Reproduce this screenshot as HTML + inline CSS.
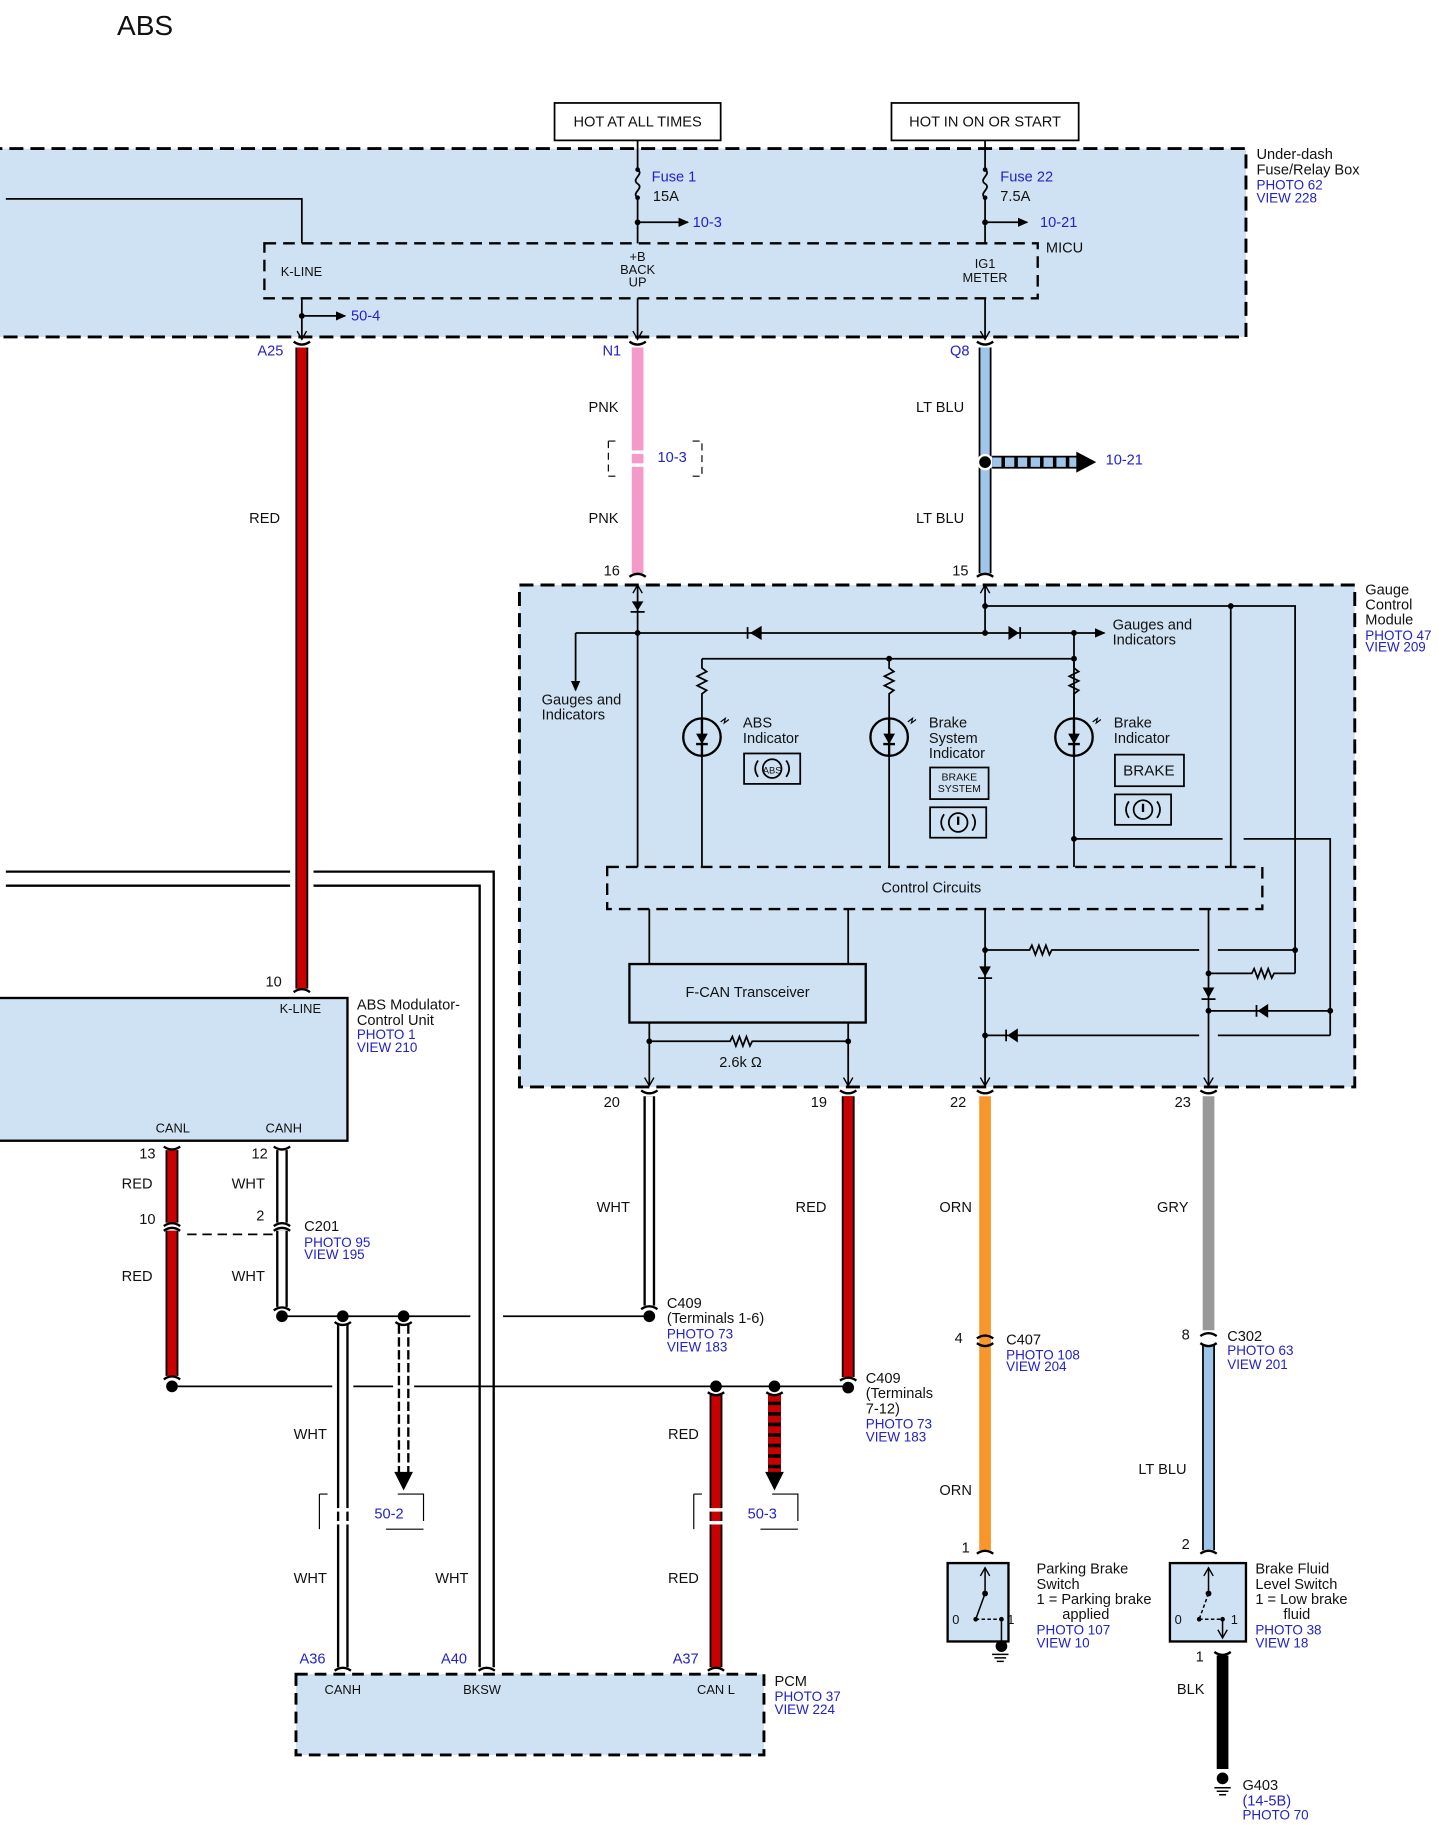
<!DOCTYPE html>
<html><head><meta charset="utf-8"><style>
html,body{margin:0;padding:0;background:#fff}
svg{display:block}
text{font-family:"Liberation Sans",Arial,sans-serif;font-size:12.5px;fill:#111}
.b{fill:#2222c8;font-size:11.5px}
.s{font-size:11px}
</style></head><body>
<svg width="1439" height="1831" viewBox="0 0 1230 1565" preserveAspectRatio="none" xmlns="http://www.w3.org/2000/svg">
<defs>
<marker id="ar" markerWidth="10" markerHeight="10" refX="8" refY="5" orient="auto" markerUnits="userSpaceOnUse"><path d="M0,1 L9,5 L0,9 Z" fill="#000"/></marker>
<marker id="ao" markerWidth="10" markerHeight="10" refX="8" refY="5" orient="auto" markerUnits="userSpaceOnUse"><path d="M1,1 L8,5 L1,9" fill="none" stroke="#000" stroke-width="1.2"/></marker>
</defs>
<text x="100" y="30" style="font-size:24px">ABS</text>

<!-- Under-dash box -->
<rect x="-10" y="127" width="1075" height="161" fill="#cfe2f3" stroke="#000" stroke-width="2.5" stroke-dasharray="12,6"/>
<rect x="226" y="208" width="661" height="47" fill="#cfe2f3" stroke="#000" stroke-width="2" stroke-dasharray="10,6"/>
<text x="1074" y="136">Under-dash</text><text x="1074" y="149">Fuse/Relay Box</text>
<text class="b" x="1074" y="162">PHOTO 62</text><text class="b" x="1074" y="173">VIEW 228</text>
<text x="894" y="216">MICU</text>
<text class="s" x="240" y="236">K-LINE</text>
<text class="s" x="545" y="223" text-anchor="middle">+B</text><text class="s" x="545" y="234" text-anchor="middle">BACK</text><text class="s" x="545" y="245" text-anchor="middle">UP</text>
<text class="s" x="842" y="229" text-anchor="middle">IG1</text><text class="s" x="842" y="241" text-anchor="middle">METER</text>

<rect x="474" y="88" width="142" height="32" fill="#fff" stroke="#000" stroke-width="1.5"/>
<text x="545" y="108" text-anchor="middle">HOT AT ALL TIMES</text>
<rect x="762" y="88" width="160" height="32" fill="#fff" stroke="#000" stroke-width="1.5"/>
<text x="842" y="108" text-anchor="middle">HOT IN ON OR START</text>

<g stroke="#000" stroke-width="1.5" fill="none">
<path d="M545 120V145 c6 4 -6 8 0 12 c6 4 -6 8 0 12 V208"/>
<path d="M842 120V145 c6 4 -6 8 0 12 c6 4 -6 8 0 12 V208"/>
<path d="M545 190H588" marker-end="url(#ar)"/>
<path d="M842 190H878" marker-end="url(#ar)"/>
<path d="M5 170H258V208"/>
<path d="M258 255V290" marker-end="url(#ao)"/>
<path d="M545 255V290" marker-end="url(#ao)"/>
<path d="M842 255V290" marker-end="url(#ao)"/>
<path d="M258 270H295" marker-end="url(#ar)"/>
</g>
<g fill="#000"><circle cx="545" cy="145" r="2"/><circle cx="545" cy="169" r="2"/><circle cx="545" cy="190" r="2.5"/><circle cx="842" cy="145" r="2"/><circle cx="842" cy="169" r="2"/><circle cx="842" cy="190" r="2.5"/><circle cx="258" cy="270" r="2.5"/></g>
<text class="b" x="557" y="155" style="font-size:12.5px">Fuse 1</text><text x="558" y="172">15A</text>
<text class="b" x="592" y="194" style="font-size:12.5px">10-3</text>
<text class="b" x="855" y="155" style="font-size:12.5px">Fuse 22</text><text x="855" y="172">7.5A</text>
<text class="b" x="889" y="194" style="font-size:12.5px">10-21</text>
<text class="b" x="300" y="274" style="font-size:12.5px">50-4</text>

<!-- BKSW double wire -->
<path d="M5 745H422V1425" fill="none" stroke="#000" stroke-width="2"/>
<path d="M5 757H410V1425" fill="none" stroke="#000" stroke-width="2"/>

<!-- top wires -->
<g stroke-linecap="butt">
<line x1="258" y1="297" x2="258" y2="845" stroke="#fff" stroke-width="20"/>
<line x1="258" y1="297" x2="258" y2="845" stroke="#000" stroke-width="11"/><line x1="258" y1="297" x2="258" y2="845" stroke="#c80000" stroke-width="8"/>
<line x1="545" y1="297" x2="545" y2="490" stroke="#f49ac8" stroke-width="10"/>
<line x1="842" y1="297" x2="842" y2="490" stroke="#000" stroke-width="11"/><line x1="842" y1="297" x2="842" y2="490" stroke="#9fc5e8" stroke-width="8"/>
</g>
<rect x="538" y="385" width="14" height="3" fill="#fff"/><rect x="538" y="396" width="14" height="3" fill="#fff"/>
<path d="M520 377H526M592 377H600V407H592M520 407H526M520 377V407" stroke="#000" stroke-width="1" fill="none" stroke-dasharray="6,4"/>
<text class="b" x="562" y="395" style="font-size:12.5px">10-3</text>
<circle cx="842" cy="395" r="6" fill="#000" stroke="#fff" stroke-width="2"/>
<line x1="848" y1="395" x2="922" y2="395" stroke="#000" stroke-width="11"/><line x1="848" y1="395" x2="922" y2="395" stroke="#9fc5e8" stroke-width="8" stroke-dasharray="8,3"/>
<path d="M920 386L937 395L920 404Z" fill="#000"/>
<text class="b" x="945" y="397" style="font-size:12.5px">10-21</text>
<text class="b" x="220" y="304" style="font-size:12.5px">A25</text><text class="b" x="515" y="304" style="font-size:12.5px">N1</text><text class="b" x="812" y="304" style="font-size:12.5px">Q8</text>
<text x="213" y="447">RED</text><text x="503" y="352">PNK</text><text x="503" y="447">PNK</text><text x="783" y="352">LT BLU</text><text x="783" y="447">LT BLU</text>
<text x="516" y="492">16</text><text x="814" y="492">15</text>
<g stroke="#000" stroke-width="2" fill="none">
<path d="M251 292q7 5 14 0M538 292q7 5 14 0M835 292q7 5 14 0M538 493q7 -5 14 0M835 493q7 -5 14 0"/>
</g>

<!-- Gauge control module -->
<rect x="444" y="500" width="714" height="429" fill="#cfe2f3" stroke="#000" stroke-width="2.5" stroke-dasharray="12,6"/>
<text x="1167" y="508">Gauge</text><text x="1167" y="521">Control</text><text x="1167" y="534">Module</text>
<text class="b" x="1167" y="547">PHOTO 47</text><text class="b" x="1167" y="557">VIEW 209</text>
<g stroke="#000" stroke-width="1.5" fill="none">
<path d="M545 741V500" marker-end="url(#ao)"/>
<path d="M842 541V500" marker-end="url(#ao)"/>
<path d="M492 541H944" marker-end="url(#ar)"/>
<path d="M492 541V590" marker-end="url(#ar)"/>
<path d="M842 518H1107V832"/>
<path d="M1052 518V741"/>
<path d="M600 563H918"/>
<path d="M918 541V741"/>
<path d="M600 563V571l4 3-8 4 8 4-8 4 8 4-4 3V614"/>
<path d="M760 563V571l4 3-8 4 8 4-8 4 8 4-4 3V614"/>
<path d="M918 563V571l4 3-8 4 8 4-8 4 8 4-4 3V614"/>
<path d="M600 646V741M760 646V741"/>
<path d="M918 717H1045M1063 717H1137V885"/>
<path d="M555 777V824M725 777V824"/>
<path d="M555 874V928" marker-end="url(#ao)"/>
<path d="M725 874V928" marker-end="url(#ao)"/>
<path d="M555 890H624l2-4 3 8 3-8 3 8 3-8 3 8 2-4H725"/>
<path d="M842 777V928" marker-end="url(#ao)"/>
<path d="M842 812H880l2-4 3 8 3-8 3 8 3-8 3 8 2-4H1025M1041 812H1107"/>
<path d="M842 885H1025M1041 885H1137"/>
<path d="M1033 777V928" marker-end="url(#ao)"/>
<path d="M1033 832H1070l2-4 3 8 3-8 3 8 3-8 3 8 2-4H1107"/>
<path d="M1033 864H1137"/>
<path d="M539 523H551M639 536V546M872 536V546M836 836H848M1027 854H1039M1074 859V869M860 880V890"/>
</g>
<g fill="#000">
<path d="M540 514L550 514L545 522Z"/>
<path d="M651 535L651 547L641 541Z"/>
<path d="M862 535L862 547L871 541Z"/>
<path d="M837 826L847 826L842 835Z"/>
<path d="M1028 844L1038 844L1033 853Z"/>
<path d="M1084 858L1084 870L1075 864Z"/>
<path d="M870 879L870 891L861 885Z"/>
<circle cx="545" cy="541" r="2.5"/><circle cx="842" cy="541" r="2.5"/><circle cx="918" cy="541" r="2.5"/><circle cx="842" cy="518" r="2.5"/><circle cx="1052" cy="518" r="2.5"/>
<circle cx="760" cy="563" r="2.5"/><circle cx="918" cy="563" r="2.5"/><circle cx="918" cy="717" r="2.5"/>
<circle cx="555" cy="890" r="2.5"/><circle cx="725" cy="890" r="2.5"/><circle cx="842" cy="812" r="2.5"/><circle cx="842" cy="885" r="2.5"/>
<circle cx="1033" cy="832" r="2.5"/><circle cx="1033" cy="864" r="2.5"/><circle cx="1107" cy="812" r="2.5"/><circle cx="1137" cy="864" r="2.5"/>
</g>
<!-- LEDs -->
<g stroke="#000" stroke-width="2" fill="none">
<circle cx="600" cy="630" r="16"/><circle cx="760" cy="630" r="16"/><circle cx="918" cy="630" r="16"/>
<path d="M600 614V646M595 636H605M760 614V646M755 636H765M918 614V646M913 636H923"/>
<path d="M616 617l4-3-1 4 4-3M776 617l4-3-1 4 4-3M934 617l4-3-1 4 4-3" stroke-width="1"/>
</g>
<g fill="#000"><path d="M595 627H605L600 636Z"/><path d="M755 627H765L760 636Z"/><path d="M913 627H923L918 636Z"/></g>
<text x="463" y="602">Gauges and</text><text x="463" y="615">Indicators</text>
<text x="951" y="538">Gauges and</text><text x="951" y="551">Indicators</text>
<text x="635" y="622">ABS</text><text x="635" y="635">Indicator</text>
<text x="794" y="622">Brake</text><text x="794" y="635">System</text><text x="794" y="648">Indicator</text>
<text x="952" y="622">Brake</text><text x="952" y="635">Indicator</text>
<g stroke="#000" stroke-width="1.5" fill="none">
<rect x="636" y="644" width="48" height="26"/>
<rect x="795" y="656" width="50" height="27"/>
<rect x="795" y="690" width="48" height="26"/>
<rect x="953" y="645" width="59" height="27"/>
<rect x="953" y="679" width="48" height="26"/>
<circle cx="660" cy="657" r="8"/><circle cx="819" cy="703" r="8"/><circle cx="977" cy="692" r="8"/>
<path d="M648 650q-5 7 0 14M672 650q5 7 0 14M807 696q-5 7 0 14M831 696q5 7 0 14M965 685q-5 7 0 14M989 685q5 7 0 14"/>
<path d="M819 698V705M977 687V694" stroke-width="2"/>
</g>
<text x="660" y="661" text-anchor="middle" style="font-size:8px">ABS</text>
<text x="820" y="667" text-anchor="middle" style="font-size:9px">BRAKE</text><text x="820" y="677" text-anchor="middle" style="font-size:9px">SYSTEM</text>
<text x="982" y="663" text-anchor="middle" style="font-size:13px">BRAKE</text>
<rect x="519" y="741" width="560" height="36" fill="#cfe2f3" stroke="#000" stroke-width="2" stroke-dasharray="10,6"/>
<text x="796" y="763" text-anchor="middle">Control Circuits</text>
<rect x="538" y="824" width="202" height="50" fill="#cfe2f3" stroke="#000" stroke-width="2"/>
<text x="639" y="852" text-anchor="middle">F-CAN Transceiver</text>
<text x="633" y="912" text-anchor="middle">2.6k Ω</text>

<!-- ABS modulator -->
<rect x="-10" y="853" width="307" height="122" fill="#cfe2f3" stroke="#000" stroke-width="2"/>
<text x="305" y="863">ABS Modulator-</text><text x="305" y="876">Control Unit</text>
<text class="b" x="305" y="888">PHOTO 1</text><text class="b" x="305" y="899">VIEW 210</text>
<text class="s" x="239" y="866">K-LINE</text><text x="227" y="843">10</text>
<text class="s" x="133" y="968">CANL</text><text class="s" x="227" y="968">CANH</text>
<path d="M251 848q7 -5 14 0" stroke="#000" stroke-width="2" fill="none"/>

<!-- bottom wires -->
<g stroke-linecap="butt">
<line x1="555" y1="937" x2="555" y2="1116" stroke="#000" stroke-width="10"/><line x1="555" y1="937" x2="555" y2="1116" stroke="#fff" stroke-width="6"/>
<line x1="725" y1="937" x2="725" y2="1177" stroke="#000" stroke-width="11"/><line x1="725" y1="937" x2="725" y2="1177" stroke="#c80000" stroke-width="8"/>
<line x1="842" y1="937" x2="842" y2="1325" stroke="#f7962b" stroke-width="10"/>
<line x1="1033" y1="937" x2="1033" y2="1137" stroke="#999" stroke-width="10"/>
<line x1="1033" y1="1150" x2="1033" y2="1325" stroke="#000" stroke-width="11"/><line x1="1033" y1="1150" x2="1033" y2="1325" stroke="#9fc5e8" stroke-width="8"/>
<line x1="1045" y1="1415" x2="1045" y2="1512" stroke="#000" stroke-width="10"/>
<line x1="147" y1="983" x2="147" y2="1045" stroke="#000" stroke-width="11"/><line x1="147" y1="983" x2="147" y2="1045" stroke="#c80000" stroke-width="8"/>
<line x1="147" y1="1052" x2="147" y2="1176" stroke="#000" stroke-width="11"/><line x1="147" y1="1052" x2="147" y2="1176" stroke="#c80000" stroke-width="8"/>
<line x1="241" y1="983" x2="241" y2="1045" stroke="#000" stroke-width="10"/><line x1="241" y1="983" x2="241" y2="1045" stroke="#fff" stroke-width="6"/>
<line x1="241" y1="1052" x2="241" y2="1117" stroke="#000" stroke-width="10"/><line x1="241" y1="1052" x2="241" y2="1117" stroke="#fff" stroke-width="6"/>
<line x1="293" y1="1132" x2="293" y2="1425" stroke="#000" stroke-width="10"/><line x1="293" y1="1132" x2="293" y2="1425" stroke="#fff" stroke-width="6"/>
<line x1="612" y1="1192" x2="612" y2="1425" stroke="#000" stroke-width="11"/><line x1="612" y1="1192" x2="612" y2="1425" stroke="#c80000" stroke-width="8"/>
<line x1="345" y1="1132" x2="345" y2="1262" stroke="#000" stroke-width="10" stroke-dasharray="8,3"/><line x1="345" y1="1132" x2="345" y2="1262" stroke="#fff" stroke-width="6"/>
<line x1="662" y1="1192" x2="662" y2="1262" stroke="#000" stroke-width="11"/><line x1="662" y1="1192" x2="662" y2="1262" stroke="#c80000" stroke-width="11" stroke-dasharray="6,3"/>
</g>
<path d="M337 1258H353L345 1274Z" fill="#000"/><path d="M654 1258H670L662 1274Z" fill="#000"/>
<rect x="287" y="1289" width="12" height="3" fill="#fff"/><rect x="287" y="1300" width="12" height="3" fill="#fff"/>
<rect x="606" y="1289" width="12" height="3" fill="#fff"/><rect x="606" y="1300" width="12" height="3" fill="#fff"/>
<path d="M273 1277V1307M273 1277H280M340 1277H362V1300M330 1307H362" stroke="#000" stroke-width="1" fill="none"/>
<path d="M593 1277V1307M593 1277H600M660 1277H682V1300M650 1307H682" stroke="#000" stroke-width="1" fill="none"/>
<text class="b" x="320" y="1298" style="font-size:12.5px">50-2</text><text class="b" x="639" y="1298" style="font-size:12.5px">50-3</text>

<g stroke="#000" stroke-width="1.5" fill="none">
<path d="M160 1055H235" stroke-dasharray="8,5"/>
<path d="M241 1125H402M430 1125H555"/>
<path d="M147 1185H284M302 1185H336M354 1185H725"/>
</g>
<g stroke="#000" stroke-width="2" fill="none">
<path d="M548 932q7 5 14 0M718 932q7 5 14 0M835 932q7 5 14 0M1026 932q7 5 14 0"/>
<path d="M140 980q7 5 14 0M234 980q7 5 14 0M140 1048q7 -5 14 0M140 1052q7 -5 14 0M234 1048q7 -5 14 0M234 1052q7 -5 14 0"/>
<path d="M234 1120q7 -5 14 0M548 1119q7 -5 14 0M718 1180q7 -5 14 0M140 1179q7 -5 14 0"/>
<path d="M835 1144q7 -5 14 0M835 1148q7 5 14 0M1026 1142q7 -5 14 0M1026 1148q7 5 14 0M835 1328q7 -5 14 0M1026 1328q7 -5 14 0M1038 1412q7 5 14 0"/>
<path d="M286 1130q7 5 14 0M338 1130q7 5 14 0M605 1190q7 5 14 0M655 1190q7 5 14 0"/>
<path d="M286 1428q7 -5 14 0M409 1428q7 -5 14 0M605 1428q7 -5 14 0"/>
</g>
<g fill="#000">
<circle cx="555" cy="1125" r="5"/><circle cx="725" cy="1186" r="5"/><circle cx="241" cy="1125" r="5"/><circle cx="293" cy="1125" r="5"/><circle cx="345" cy="1125" r="5"/>
<circle cx="147" cy="1185" r="5"/><circle cx="612" cy="1185" r="5"/><circle cx="662" cy="1185" r="5"/>
</g>
<text x="510" y="1036">WHT</text><text x="680" y="1036">RED</text><text x="803" y="1036">ORN</text><text x="989" y="1036">GRY</text>
<text x="516" y="946">20</text><text x="693" y="946">19</text><text x="812" y="946">22</text><text x="1004" y="946">23</text>
<text x="570" y="1118">C409</text><text x="570" y="1131">(Terminals 1-6)</text><text class="b" x="570" y="1144">PHOTO 73</text><text class="b" x="570" y="1155">VIEW 183</text>
<text x="740" y="1182">C409</text><text x="740" y="1195">(Terminals</text><text x="740" y="1208">7-12)</text><text class="b" x="740" y="1221">PHOTO 73</text><text class="b" x="740" y="1232">VIEW 183</text>
<text x="816" y="1148">4</text><text x="860" y="1149">C407</text><text class="b" x="860" y="1162">PHOTO 108</text><text class="b" x="860" y="1172">VIEW 204</text>
<text x="803" y="1278">ORN</text><text x="822" y="1327">1</text>
<text x="1010" y="1145">8</text><text x="1049" y="1146">C302</text><text class="b" x="1049" y="1158">PHOTO 63</text><text class="b" x="1049" y="1170">VIEW 201</text>
<text x="973" y="1260">LT BLU</text><text x="1010" y="1324">2</text>
<text x="119" y="990">13</text><text x="119" y="1046">10</text><text x="104" y="1016">RED</text><text x="104" y="1095">RED</text>
<text x="215" y="990">12</text><text x="219" y="1043">2</text><text x="198" y="1016">WHT</text><text x="198" y="1095">WHT</text>
<text x="260" y="1052">C201</text><text class="b" x="260" y="1066">PHOTO 95</text><text class="b" x="260" y="1076">VIEW 195</text>
<text x="251" y="1230">WHT</text><text x="251" y="1353">WHT</text><text x="372" y="1353">WHT</text>
<text x="571" y="1230">RED</text><text x="571" y="1353">RED</text>
<text class="b" x="256" y="1422" style="font-size:12.5px">A36</text><text class="b" x="377" y="1422" style="font-size:12.5px">A40</text><text class="b" x="575" y="1422" style="font-size:12.5px">A37</text>

<rect x="253" y="1431" width="400" height="69" fill="#cfe2f3" stroke="#000" stroke-width="2.5" stroke-dasharray="10,6"/>
<text class="s" x="293" y="1448" text-anchor="middle">CANH</text><text class="s" x="412" y="1448" text-anchor="middle">BKSW</text><text class="s" x="612" y="1448" text-anchor="middle">CAN L</text>
<text x="662" y="1441">PCM</text><text class="b" x="662" y="1454">PHOTO 37</text><text class="b" x="662" y="1465">VIEW 224</text>

<!-- switches -->
<rect x="810" y="1336" width="52" height="67" fill="#cfe2f3" stroke="#000" stroke-width="2"/>
<rect x="1000" y="1336" width="65" height="67" fill="#cfe2f3" stroke="#000" stroke-width="2"/>
<g stroke="#000" stroke-width="1.3" fill="none">
<path d="M842 1362V1340" marker-end="url(#ao)"/>
<path d="M834 1384H856" stroke-dasharray="3,2"/>
<path d="M842 1362L834 1384M856 1384V1405"/>
<path d="M1033 1362V1340" marker-end="url(#ao)"/>
<path d="M1033 1362L1025 1384M1025 1384H1045" stroke-dasharray="3,2"/>
<path d="M1045 1384V1400" marker-end="url(#ao)"/>
<path d="M848 1414H862M850 1417H860M852 1420H858M1038 1528H1052M1040 1531H1050M1042 1534H1048"/>
</g>
<g fill="#000"><circle cx="842" cy="1362" r="2.5"/><circle cx="834" cy="1384" r="2"/><circle cx="856" cy="1384" r="2"/><circle cx="856" cy="1407" r="5"/>
<circle cx="1033" cy="1362" r="2.5"/><circle cx="1025" cy="1384" r="2"/><circle cx="1045" cy="1384" r="2"/><circle cx="1045" cy="1520" r="5"/></g>
<text x="814" y="1388" class="s">0</text><text x="861" y="1388" class="s">1</text>
<text x="1004" y="1388" class="s">0</text><text x="1052" y="1388" class="s">1</text>
<text x="886" y="1345">Parking Brake</text><text x="886" y="1358">Switch</text><text x="886" y="1371">1 = Parking brake</text><text x="908" y="1384">applied</text>
<text class="b" x="886" y="1397">PHOTO 107</text><text class="b" x="886" y="1408">VIEW 10</text>
<text x="1073" y="1345">Brake Fluid</text><text x="1073" y="1358">Level Switch</text><text x="1073" y="1371">1 = Low brake</text><text x="1097" y="1384">fluid</text>
<text class="b" x="1073" y="1397">PHOTO 38</text><text class="b" x="1073" y="1408">VIEW 18</text>
<text x="1022" y="1420">1</text><text x="1006" y="1448">BLK</text>
<text x="1062" y="1530">G403</text><text class="b" x="1062" y="1543" style="font-size:12.5px">(14-5B)</text><text class="b" x="1062" y="1555">PHOTO 70</text>
</svg>
</body></html>
